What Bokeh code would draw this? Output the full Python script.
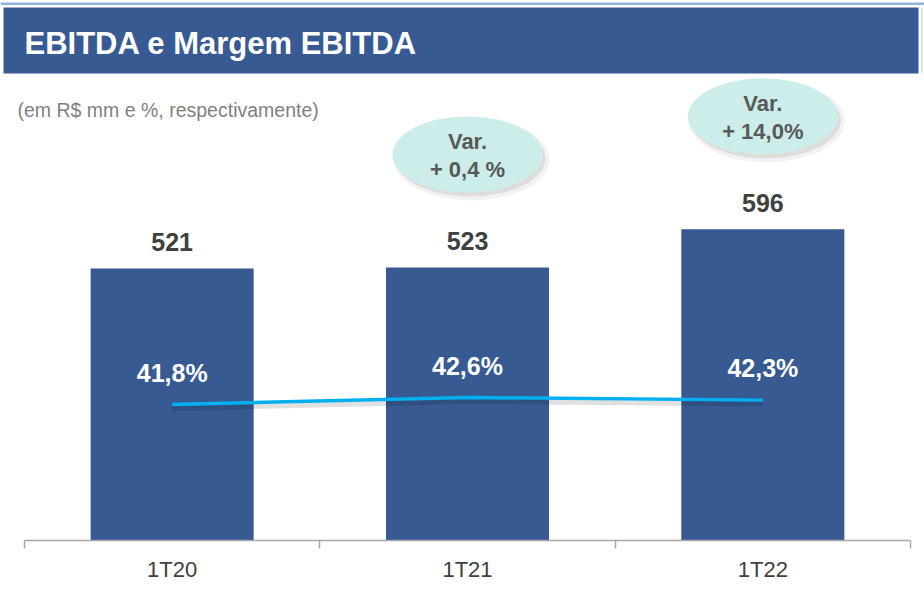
from bokeh.plotting import figure
from bokeh.models import Range1d, LinearAxis, FixedTicker, BoxAnnotation, Label
from bokeh.core.properties import value
from bokeh.embed import file_html
from bokeh.resources import INLINE

# ---- data ----
categories = ["1T20", "1T21", "1T22"]
ebitda = [521, 523, 596]
ebitda_labels = ["521", "523", "596"]
margin = [41.8, 42.6, 42.3]
margin_labels = ["41,8%", "42,6%", "42,3%"]
var_categories = ["1T21", "1T22"]
var_head = ["Var.", "Var."]
var_labels = ["+ 0,4 %", "+ 14,0%"]
title_text = "EBITDA e Margem EBITDA"
subtitle_text = "(em R$ mm e %, respectivamente)"

# ---- styling / layout ----
FONT = "Liberation Sans"
BLUE = "#375A93"
W, H = 924, 605
AX_L, AX_R, BB = 24, 910, 65          # axis span on the canvas (px), bottom border
n = len(categories)
px_cat = (AX_R - AX_L) / n
frame_h = H - BB
px_unit = 0.5221
y_end = frame_h / px_unit
pct_px = 8.75
pct_start = 41.8 - 136 / pct_px
pct_end = pct_start + frame_h / pct_px


def sx(px):
    return (px - AX_L) / px_cat


def sy(py):
    return (frame_h - py) / px_unit


xs = [i + 0.5 for i in range(n)]

p = figure(width=W, height=H, output_backend="svg", toolbar_location=None,
           x_range=Range1d(sx(0), sx(W)), y_range=Range1d(0, y_end),
           min_border_left=0, min_border_right=0, min_border_top=0,
           min_border_bottom=BB, x_axis_location=None, y_axis_location=None)
p.outline_line_color = None
p.grid.visible = False
p.background_fill_color = "white"
p.border_fill_color = "white"
p.extra_y_ranges = {"pct": Range1d(pct_start, pct_end)}

# thin top rule and header band
p.add_layout(BoxAnnotation(left=sx(0), right=sx(W), top=sy(2), bottom=sy(4.5),
                           fill_color="#8FB4DC", fill_alpha=1.0, line_color=None))
p.add_layout(BoxAnnotation(left=sx(3), right=sx(918), top=sy(7), bottom=sy(73),
                           fill_color=BLUE, fill_alpha=1.0, line_color=None))
p.add_layout(BoxAnnotation(left=sx(920.5), right=sx(922), top=sy(7), bottom=sy(73),
                           fill_color="#D9D9D9", fill_alpha=1.0, line_color=None))
p.add_layout(Label(x=sx(24), y=sy(43), text=title_text,
                   text_font=FONT, text_font_style="bold", text_font_size="31px",
                   text_color="white", text_baseline="alphabetic"))
p.add_layout(Label(x=sx(17), y=sy(109), text=subtitle_text,
                   text_font=FONT, text_font_size="19.5px",
                   text_color="#7F7F7F", text_baseline="alphabetic"))

# bars
p.vbar(x=xs, top=ebitda, width=0.552, fill_color=BLUE, line_color=None)
p.text(x=xs, y=ebitda, text=ebitda_labels, y_offset=-26,
       text_align="center", text_baseline="alphabetic",
       text_font=value(FONT), text_font_style="bold", text_font_size="25px",
       text_color="#404040")

# margin line
p.line(x=xs, y=[m - 0.45 for m in margin], y_range_name="pct",
       line_color="#000000", line_alpha=0.12, line_width=5)
p.line(x=xs, y=margin, y_range_name="pct", line_color="#00B0F0", line_width=3.5)
p.text(x=xs, y=margin, text=margin_labels, y_range_name="pct", y_offset=-32,
       text_align="center", text_baseline="alphabetic",
       text_font=value(FONT), text_font_style="bold", text_font_size="25px",
       text_color="white")

# variation bubbles
vx = [xs[categories.index(c)] for c in var_categories]
vy = [ebitda[categories.index(c)] + 113 / px_unit for c in var_categories]
p.ellipse(x=[v + 4 / px_cat for v in vx], y=[v - 5 / px_unit for v in vy],
          width=156, height=82, width_units="screen", height_units="screen",
          fill_color="#808080", fill_alpha=0.10, line_color=None)
p.ellipse(x=[v + 3 / px_cat for v in vx], y=[v - 4 / px_unit for v in vy],
          width=150, height=76, width_units="screen", height_units="screen",
          fill_color="#808080", fill_alpha=0.18, line_color=None)
p.ellipse(x=vx, y=vy, width=150, height=76, width_units="screen",
          height_units="screen", fill_color="#CCEDE9", line_color=None)
p.text(x=vx, y=vy, text=var_head, y_offset=-13, text_align="center",
       text_baseline="alphabetic", text_font=value(FONT),
       text_font_style="bold", text_font_size="22px", text_color="#595959")
p.text(x=vx, y=vy, text=var_labels, y_offset=15, text_align="center",
       text_baseline="alphabetic", text_font=value(FONT),
       text_font_style="bold", text_font_size="22px", text_color="#595959")

# category axis
xaxis = LinearAxis(ticker=FixedTicker(ticks=xs, minor_ticks=list(range(n + 1))),
                   major_label_overrides={xs[i]: categories[i] for i in range(n)},
                   bounds=(0, n))
xaxis.axis_line_color = "#A6A6A6"
xaxis.axis_line_width = 1.5
xaxis.major_tick_out = 0
xaxis.major_tick_in = 0
xaxis.minor_tick_out = 8
xaxis.minor_tick_in = 0
xaxis.minor_tick_line_color = "#A6A6A6"
xaxis.minor_tick_line_width = 1.5
xaxis.major_label_text_font = FONT
xaxis.major_label_text_font_size = "22px"
xaxis.major_label_text_color = "#404040"
xaxis.major_label_standoff = 8
p.add_layout(xaxis, "below")

open("out.html", "w").write(file_html(p, INLINE))
